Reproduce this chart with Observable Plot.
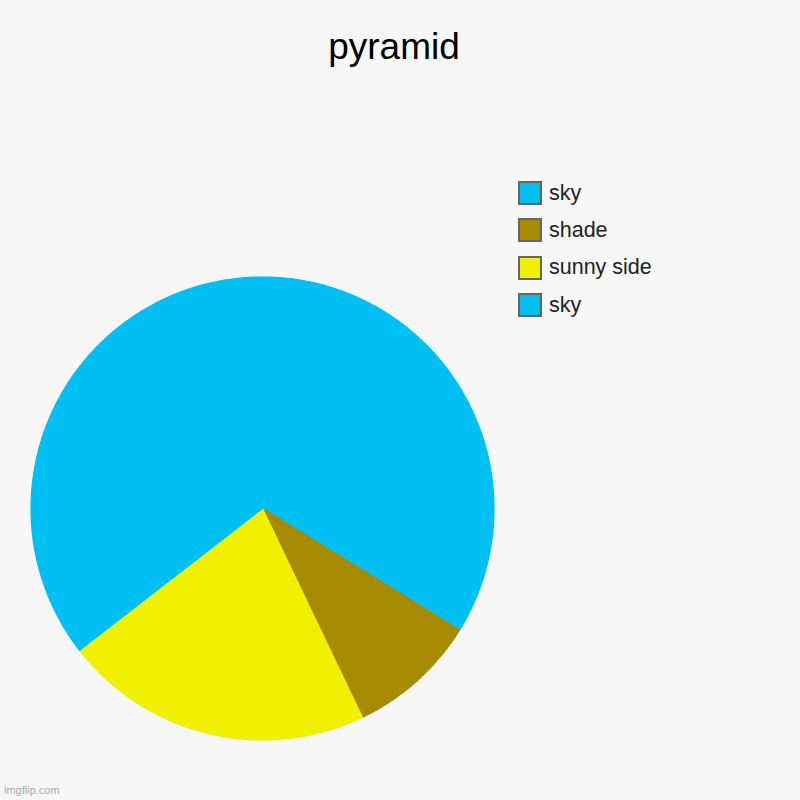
<!DOCTYPE html>
<html>
<head>
<meta charset="utf-8">
<script src="https://cdn.jsdelivr.net/npm/d3@7"></script>
<script src="https://cdn.jsdelivr.net/npm/@observablehq/plot@0.6"></script>
<style>
html, body { margin: 0; padding: 0; background: #f7f7f7; }
#wrap { position: relative; width: 800px; height: 800px; background: #f7f7f7; overflow: hidden;
  font-family: "Liberation Sans", Arial, Helvetica, sans-serif; }
#chart { position: absolute; left: 0; top: 0; }
#title { position: absolute; left: -6px; top: 28px; width: 800px; text-align: center; font-size: 37px; line-height: 37px; color: #000; }
#legend { position: absolute; left: 518px; top: 174.5px; }
.item { display: flex; align-items: center; height: 37.3px; font-size: 21.5px; color: #222; }
.sw { width: 20px; height: 20px; border: 2px solid #666; margin-right: 7px; flex: none; }
#wm { position: absolute; left: 4px; top: 784px; font-size: 11px; line-height: 12px; color: #aaa; }
</style>
</head>
<body>
<div id="wrap">
  <div id="chart"></div>
  <div id="title"></div>
  <div id="legend"></div>
  <div id="wm">imgflip.com</div>
</div>
<script>
const title = "pyramid";
const labels = ["sky", "shade", "sunny side", "sky"];
const values = [33.8, 9.1, 21.6, 35.5];
const colors = ["#00BFF3", "#A68A00", "#F0F000", "#00BFF3"];

document.getElementById("title").textContent = title;

// Build slice polygons (unit circle, clockwise from top) from the values
const total = d3.sum(values);
const rows = [];
let acc = 0;
values.forEach((v, i) => {
  const a0 = acc / total * 2 * Math.PI;
  acc += v;
  const a1 = acc / total * 2 * Math.PI;
  rows.push({i, x: 0, y: 0, color: colors[i]});
  const n = Math.max(2, Math.ceil((a1 - a0) / (Math.PI / 360)));
  for (let k = 0; k <= n; k++) {
    const a = a0 + (a1 - a0) * k / n;
    rows.push({i, x: Math.sin(a), y: Math.cos(a), color: colors[i]});
  }
  rows.push({i, x: 0, y: 0, color: colors[i]});
});

const R = 231.5, cx = 262, cy = 508, W = 800, H = 800;
const chart = Plot.plot({
  width: W,
  height: H,
  margin: 0,
  style: {background: "transparent"},
  x: {domain: [-cx / R, (W - cx) / R], axis: null},
  y: {domain: [-(H - cy) / R, cy / R], axis: null},
  color: {type: "identity"},
  marks: [
    Plot.line(rows, {x: "x", y: "y", z: "i", fill: "color", stroke: "color", strokeWidth: 1.2, strokeLinejoin: "round"})
  ]
});
document.getElementById("chart").appendChild(chart);

const legend = document.getElementById("legend");
labels.forEach((l, i) => {
  const it = document.createElement("div");
  it.className = "item";
  const sw = document.createElement("div");
  sw.className = "sw";
  sw.style.background = colors[i];
  const t = document.createElement("span");
  t.textContent = l;
  it.appendChild(sw);
  it.appendChild(t);
  legend.appendChild(it);
});
</script>
</body>
</html>
